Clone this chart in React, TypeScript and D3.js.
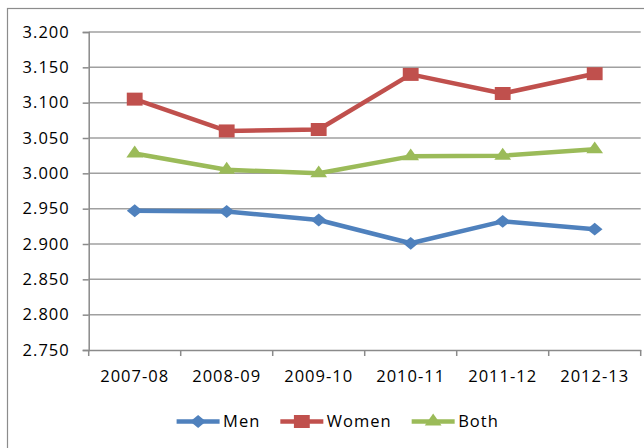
import React, { useRef, useEffect } from "react";
import * as d3 from "d3";

const categories = ["2007-08", "2008-09", "2009-10", "2010-11", "2011-12", "2012-13"];
const men = [2.947, 2.946, 2.934, 2.901, 2.932, 2.921];
const women = [3.105, 3.06, 3.062, 3.14, 3.113, 3.141];
const both = [3.028, 3.005, 3.0, 3.024, 3.025, 3.034];
const yTicks = [2.75, 2.8, 2.85, 2.9, 2.95, 3.0, 3.05, 3.1, 3.15, 3.2];

interface Series {
  name: string;
  values: number[];
  color: string;
  symbol: d3.SymbolType;
  size: number;
}

const series: Series[] = [
  { name: "Men", values: men, color: "#4F81BD", symbol: d3.symbolDiamond2, size: 105 },
  { name: "Women", values: women, color: "#C0504D", symbol: d3.symbolSquare2, size: 215 },
  { name: "Both", values: both, color: "#9BBB59", symbol: d3.symbolTriangle2, size: 135 },
];

const FONT = "'Open Sans', 'Noto Sans', sans-serif";
// the reference is a little wider than tall, so markers are stretched a bit
const STRETCH = 1.22;

const App: React.FC = () => {
  const svgRef = useRef<SVGSVGElement>(null);

  useEffect(() => {
    const svg = d3.select(svgRef.current);
    svg.selectAll("*").remove();
    const margin = { top: 32, right: 3.3, bottom: 98, left: 88.7 };
    const width = 644;
    const height = 448;

    // outer chart border (runs off the bottom/right edge)
    svg
      .append("rect")
      .attr("x", 7.5)
      .attr("y", 8.5)
      .attr("width", 700)
      .attr("height", 500)
      .attr("fill", "none")
      .attr("stroke", "#8c8c8c")
      .attr("stroke-width", 1.2);

    const x = d3
      .scaleBand()
      .domain(categories)
      .range([margin.left, width - margin.right]);

    const y = d3
      .scaleLinear()
      .domain([2.75, 3.2])
      .range([height - margin.bottom, margin.top]);

    // gridlines
    svg
      .append("g")
      .selectAll("line")
      .data(yTicks.filter((t) => t > 2.75))
      .enter()
      .append("line")
      .attr("x1", margin.left)
      .attr("x2", width - margin.right)
      .attr("y1", (d) => y(d))
      .attr("y2", (d) => y(d))
      .attr("stroke", "#a0a0a0")
      .attr("stroke-width", 1.5);

    const styleText = (sel: d3.Selection<any, any, any, any>) =>
      sel
        .attr("font-family", FONT)
        .attr("font-size", 16.5)
        .attr("letter-spacing", "1px")
        .attr("fill", "#000");

    // y axis
    const yAxis = svg
      .append("g")
      .attr("transform", `translate(${margin.left},0)`)
      .call(
        d3
          .axisLeft(y)
          .tickValues(yTicks)
          .tickSize(6)
          .tickPadding(13)
          .tickFormat(d3.format(".3f"))
      );
    yAxis.select(".domain").attr("stroke", "#8a8a8a").attr("stroke-width", 1.5);
    yAxis.selectAll(".tick line").attr("stroke", "#8a8a8a").attr("stroke-width", 1.5);
    styleText(yAxis.selectAll("text"));

    // x axis
    const xAxis = svg
      .append("g")
      .attr("transform", `translate(0,${y(2.75)})`)
      .call(d3.axisBottom(x).tickSize(0).tickPadding(20));
    xAxis.select(".domain").attr("stroke", "#8a8a8a").attr("stroke-width", 1.5);
    styleText(xAxis.selectAll("text"));
    const bounds = [...categories.map((c) => x(c)!), x.range()[1]];
    svg
      .append("g")
      .selectAll("line")
      .data(bounds)
      .enter()
      .append("line")
      .attr("x1", (d) => d)
      .attr("x2", (d) => d)
      .attr("y1", y(2.75))
      .attr("y2", y(2.75) + 6)
      .attr("stroke", "#8a8a8a")
      .attr("stroke-width", 1.5);

    const cx = (c: string) => x(c)! + x.bandwidth() / 2;
    const line = d3
      .line<number>()
      .x((_, i) => cx(categories[i]))
      .y((d) => y(d));

    series.forEach((s) => {
      svg
        .append("path")
        .datum(s.values)
        .attr("d", line)
        .attr("fill", "none")
        .attr("stroke", s.color)
        .attr("stroke-width", 4.5)
        .attr("stroke-linejoin", "round");
      svg
        .append("g")
        .selectAll("path")
        .data(s.values)
        .enter()
        .append("path")
        .attr("d", d3.symbol().type(s.symbol).size(s.size)())
        .attr(
          "transform",
          (d, i) => `translate(${cx(categories[i])},${y(d)}) scale(${STRETCH},1)`
        )
        .attr("fill", s.color);
    });

    // legend
    const legend = svg.append("g").attr("transform", "translate(176.6,421.5)");
    let offset = 0;
    series.forEach((s) => {
      const g = legend.append("g").attr("transform", `translate(${offset},0)`);
      g.append("line")
        .attr("x1", 0)
        .attr("x2", 43)
        .attr("stroke", s.color)
        .attr("stroke-width", 4.5);
      g.append("path")
        .attr("d", d3.symbol().type(s.symbol).size(s.size)())
        .attr("transform", `translate(21.5,0) scale(${STRETCH},1)`)
        .attr("fill", s.color);
      const t = styleText(
        g.append("text").attr("x", 46.5).attr("dy", "0.36em").text(s.name)
      );
      const w = (t.node() as SVGTextElement).getComputedTextLength();
      offset += 46.5 + w + 20;
    });
  }, []);

  return (
    <svg
      ref={svgRef}
      width={644}
      height={448}
      style={{ position: "absolute", left: 0, top: 0, background: "#fff" }}
    ></svg>
  );
};

export default App;
